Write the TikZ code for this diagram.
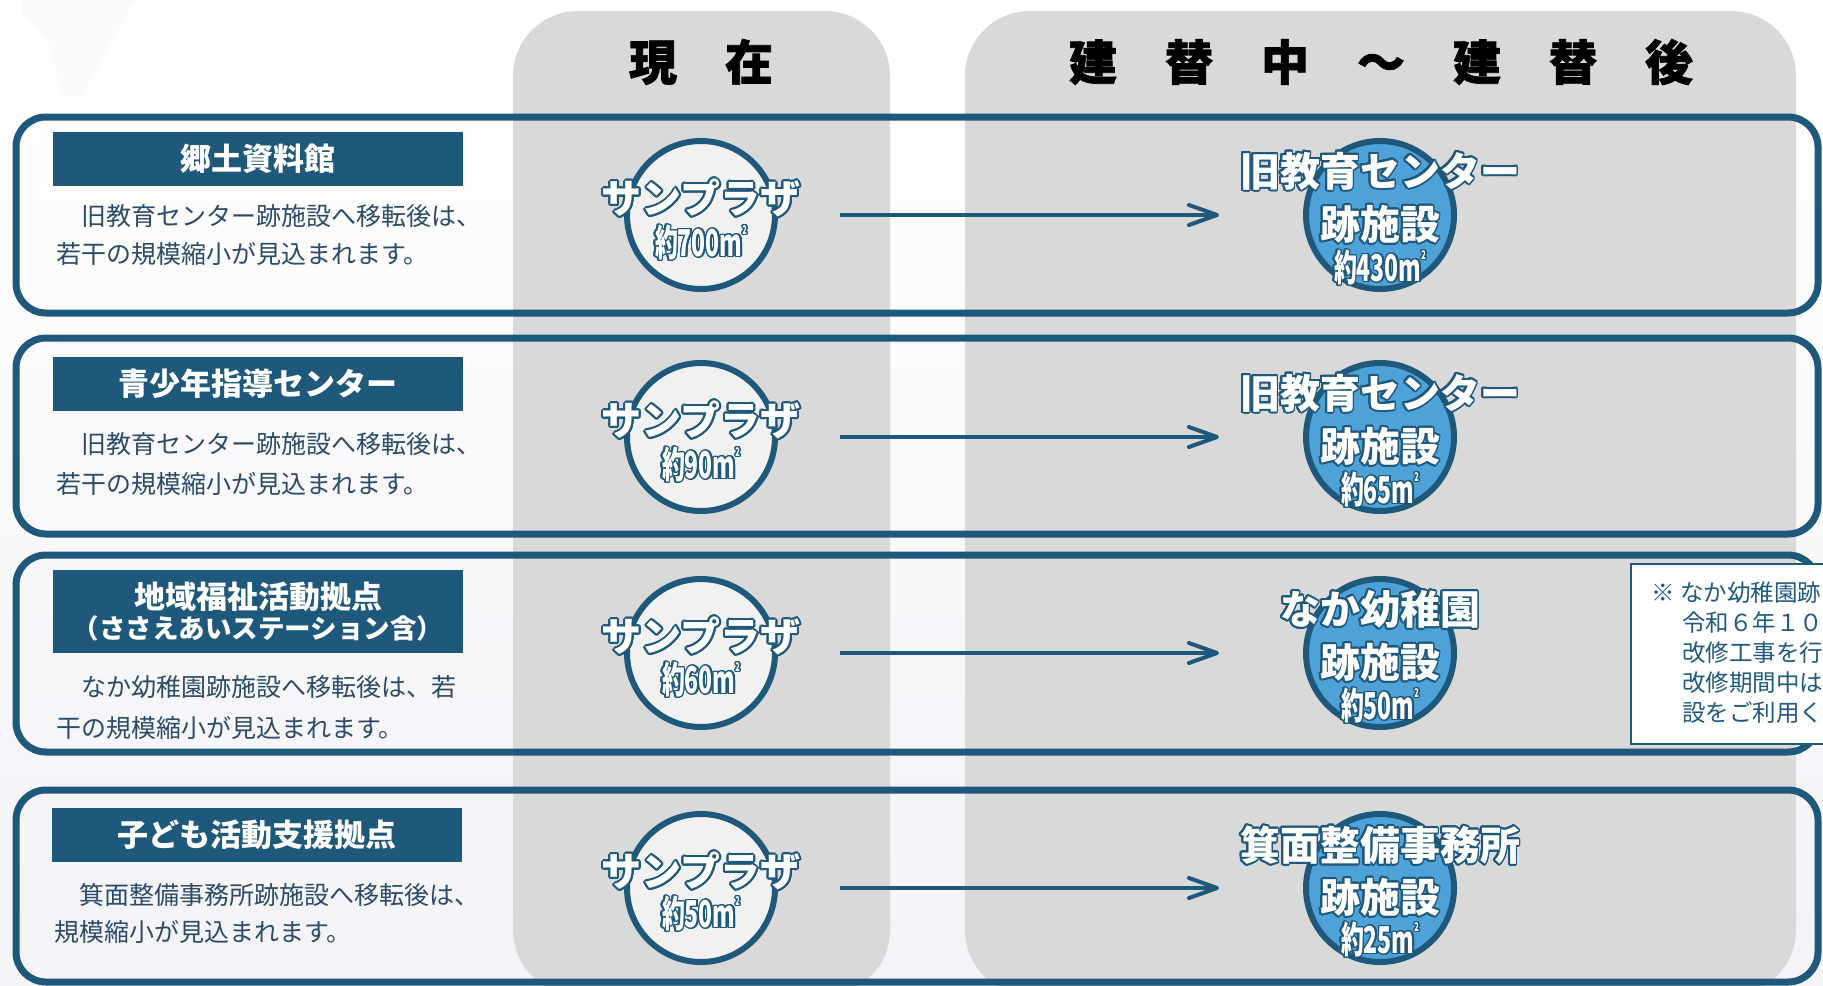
\documentclass[tikz,border=0pt]{standalone}
\usepackage{fontspec}
\setmainfont{Noto Sans CJK JP}
\newfontfamily\condfont[FakeStretch=0.62]{Noto Sans CJK JP}
\newfontfamily\heavyfont[BoldFeatures={FakeBold=1.5}]{Noto Sans CJK JP}
\usepackage{contour}
\contournumber{24}
\contourlength{0.9pt}
\usetikzlibrary{arrows.meta}
\definecolor{dblue}{HTML}{1E587A}
\definecolor{colgray}{HTML}{D9D9D9}
\definecolor{lgray}{HTML}{F1F1F1}
\definecolor{cblue}{HTML}{4FA2D8}
\definecolor{bodytxt}{HTML}{2B4B68}
\definecolor{notetxt}{HTML}{1F5A80}
\definecolor{bgl}{HTML}{F3F3F8}
\definecolor{faint}{HTML}{FAFAFA}
\tikzset{
  hdr/.style={inner sep=0pt, text=black, font=\heavyfont\fontsize{24}{24}\selectfont\bfseries},
  rowbox/.style={draw=dblue, line width=3.5pt, rounded corners=15pt},
  lbl/.style={fill=dblue, text=white, inner sep=0pt, minimum width=205pt, minimum height=27pt, font=\fontsize{15.5}{16}\selectfont\bfseries},
  body/.style={anchor=west, inner sep=0pt, text=bodytxt, font=\fontsize{12.5}{13}\selectfont},
  lc/.style={circle, draw=dblue, line width=3pt, fill=lgray, minimum size=74pt, inner sep=0pt},
  rc/.style={circle, draw=dblue, line width=3pt, fill=cblue, minimum size=74pt, inner sep=0pt},
  bigt/.style={inner sep=0pt, text=white, font=\fontsize{20}{20}\selectfont\bfseries},
  subt/.style={inner sep=0pt, text=white, font=\condfont\fontsize{18.5}{19}\selectfont\bfseries\contourlength{0.65pt}},
  arr/.style={draw=dblue, line width=2pt, -{Straight Barb[length=14pt,width=10pt,round]}, shorten <=31pt, shorten >=42pt},
  notebox/.style={draw=dblue, line width=1pt, fill=white, anchor=north west, minimum width=110pt, minimum height=90pt, inner sep=0pt},
  notet/.style={anchor=west, inner sep=0pt, text=notetxt, font=\fontsize{11.75}{12}\selectfont}
}
\newcommand\sqm{m\raisebox{1.1ex}{\fontsize{6}{6}\selectfont 2}}
\begin{document}
\begin{tikzpicture}[x=0.5pt,y=-0.5pt]
\useasboundingbox (0,0) rectangle (1823,985);
\clip (0,0) rectangle (1823,985);
\shade[top color=white, bottom color=bgl] (0,0) rectangle (1823,985);
\fill[faint] (22,0) -- (135,0) -- (118,30) -- (82,95) -- (62,95) -- (48,40) -- (22,12) -- cycle;
% columns
\fill[colgray, rounded corners=32.5pt] (513,11) rectangle (890,995);
\fill[colgray, rounded corners=32.5pt] (965,11) rectangle (1796,995);
\node[hdr] (h1) at (701,62) {現　在};
\node[hdr] (h2) at (1381,62) {建　替　中　～　建　替　後};
% row boxes
\draw[rowbox] (16,117) rectangle (1818,313);
\draw[rowbox] (16,338) rectangle (1818,534);
\draw[rowbox] (16,555) rectangle (1818,752);
\draw[rowbox] (16,790) rectangle (1818,982);
% labels
\node[lbl] (l1) at (258,159) {郷土資料館};
\node[lbl] (l2) at (258,384) {青少年指導センター};
\node[lbl, minimum height=41.5pt, align=center] (l3) at (258,611.5) {地域福祉活動拠点\\[-1pt]{\fontsize{13.25}{14}\selectfont （ささえあいステーション含）}};
\node[lbl] (l4) at (257,834.5) {子ども活動支援拠点};
% body text
\node[body] (t1a) at (56,216) {　旧教育センター跡施設へ移転後は、};
\node[body] (t1b) at (56,254) {若干の規模縮小が見込まれます。};
\node[body] (t2a) at (56,444) {　旧教育センター跡施設へ移転後は、};
\node[body] (t2b) at (56,484) {若干の規模縮小が見込まれます。};
\node[body] (t3a) at (56,687) {　なか幼稚園跡施設へ移転後は、若};
\node[body] (t3b) at (56,728) {干の規模縮小が見込まれます。};
\node[body] (t4a) at (54,895) {　箕面整備事務所跡施設へ移転後は、};
\node[body] (t4b) at (54,932) {規模縮小が見込まれます。};
% left circles
\node[lc] (c1) at (701,215) {};
\node[lc] (c2) at (701,437) {};
\node[lc] (c3) at (701,653) {};
\node[lc] (c4) at (701,888) {};
\node[bigt] (s1) at (701,199) {\contour{dblue}{サンプラザ}};
\node[bigt] (s2) at (701,421) {\contour{dblue}{サンプラザ}};
\node[bigt] (s3) at (701,637) {\contour{dblue}{サンプラザ}};
\node[bigt] (s4) at (701,872) {\contour{dblue}{サンプラザ}};
\node[subt] (a1) at (701,243) {\contour{dblue}{約700\sqm}};
\node[subt] (a2) at (701,465) {\contour{dblue}{約90\sqm}};
\node[subt] (a3) at (701,680) {\contour{dblue}{約60\sqm}};
\node[subt] (a4) at (701,914) {\contour{dblue}{約50\sqm}};
% right circles
\node[rc] (d1) at (1380,215) {};
\node[rc] (d2) at (1380,437) {};
\node[rc] (d3) at (1380,653) {};
\node[rc] (d4) at (1380,888) {};
\node[bigt] (u1) at (1380,172) {\contour{dblue}{旧教育センター}};
\node[bigt] (u2) at (1380,394) {\contour{dblue}{旧教育センター}};
\node[bigt] (u3) at (1380,610) {\contour{dblue}{なか幼稚園}};
\node[bigt] (u4) at (1380,846) {\contour{dblue}{箕面整備事務所}};
\node[bigt] (v1) at (1380,225) {\contour{dblue}{跡施設}};
\node[bigt] (v2) at (1380,447) {\contour{dblue}{跡施設}};
\node[bigt] (v3) at (1380,663) {\contour{dblue}{跡施設}};
\node[bigt] (v4) at (1380,898) {\contour{dblue}{跡施設}};
\node[subt] (w1) at (1380,268) {\contour{dblue}{約430\sqm}};
\node[subt] (w2) at (1380,490) {\contour{dblue}{約65\sqm}};
\node[subt] (w3) at (1380,706) {\contour{dblue}{約50\sqm}};
\node[subt] (w4) at (1380,940) {\contour{dblue}{約25\sqm}};
% arrows
\draw[arr] (c1.east) -- (d1.west);
\draw[arr] (c2.east) -- (d2.west);
\draw[arr] (c3.east) -- (d3.west);
\draw[arr] (c4.east) -- (d4.west);
% note
\node[notebox] (nb) at (1630,563) {};
\node[notet] (n1) at (1651,593) {※ なか幼稚園跡};
\node[notet] (n2) at (1682,623) {令和６年１０};
\node[notet] (n3) at (1682,653) {改修工事を行};
\node[notet] (n4) at (1682,683) {改修期間中は};
\node[notet] (n5) at (1682,713) {設をご利用く};
\end{tikzpicture}
\end{document}
